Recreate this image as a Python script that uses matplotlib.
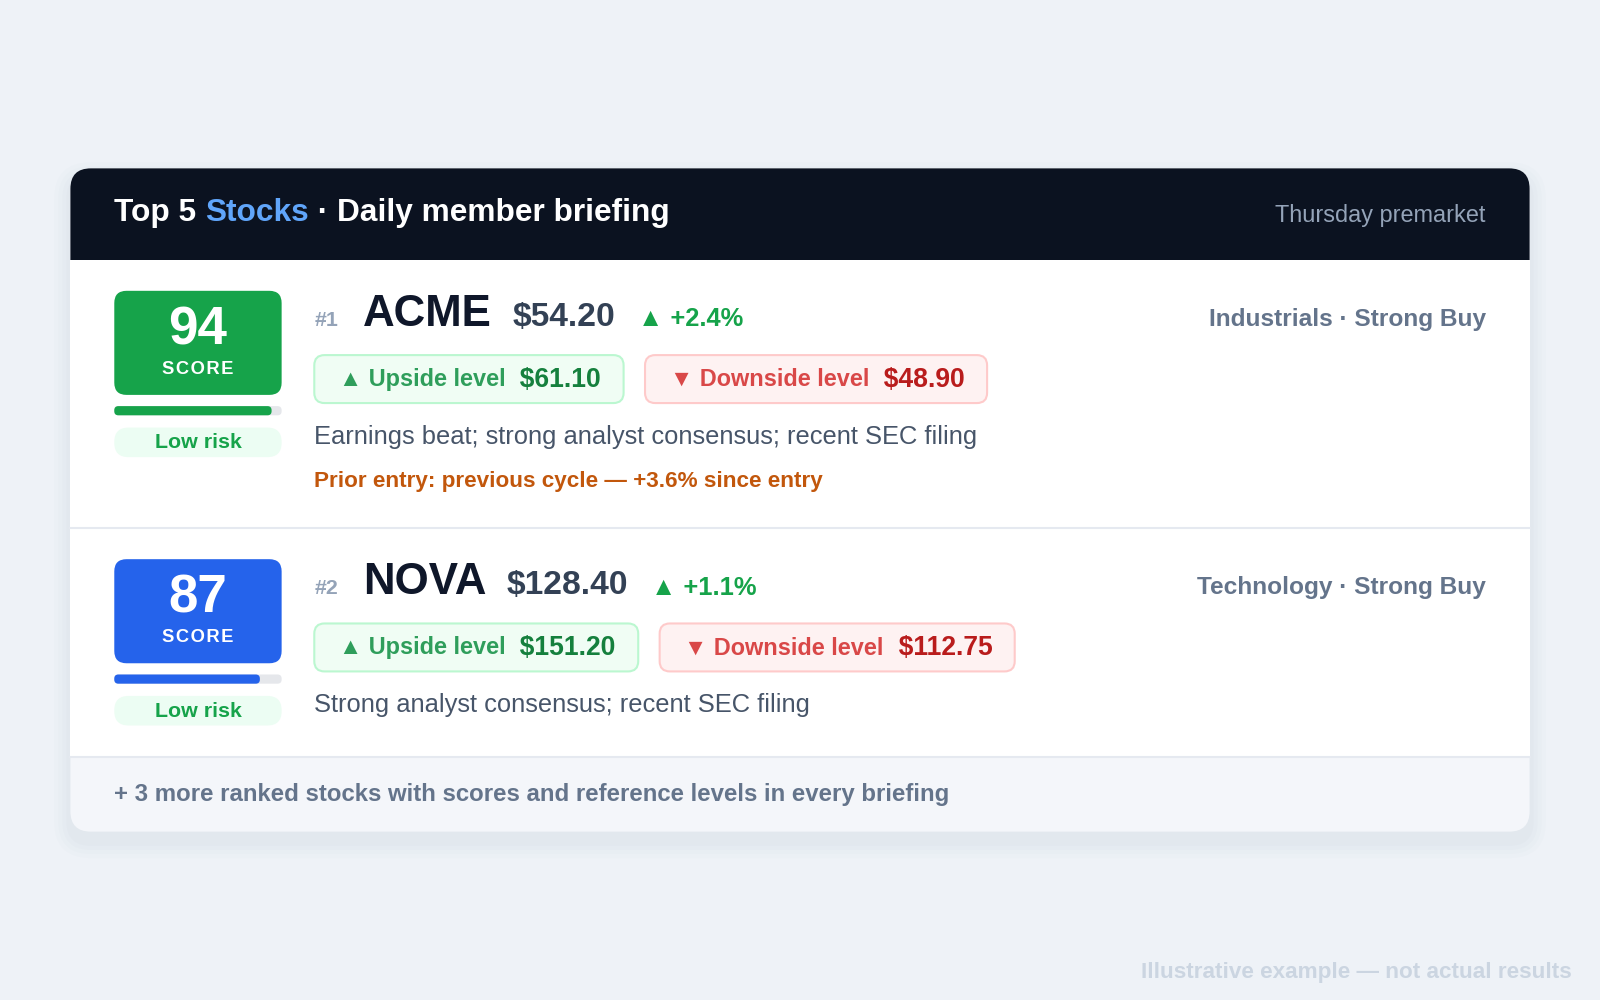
import matplotlib
matplotlib.use("Agg")
import matplotlib.pyplot as plt
from matplotlib.patches import FancyBboxPatch, Rectangle

# data
ranks = ["#1", "#2"]
tickers = ["ACME", "NOVA"]
prices = ["$54.20", "$128.40"]
changes = ["+2.4%", "+1.1%"]
scores = [94, 87]
sectors = ["Industrials · Strong Buy", "Technology · Strong Buy"]
upside = ["$61.10", "$151.20"]
downside = ["$48.90", "$112.75"]
notes = ["Earnings beat; strong analyst consensus; recent SEC filing",
         "Strong analyst consensus; recent SEC filing"]
prior = ["Prior entry: previous cycle — +3.6% since entry", None]
risk = ["Low risk", "Low risk"]
score_colors = ["#16a34a", "#2563eb"]

W, H = 1568, 980
S = 1600 / W
FAM = ["Liberation Sans", "DejaVu Sans"]

fig = plt.figure(figsize=(16, 10), dpi=100)
fig.patch.set_facecolor("#eef2f7")
ax = fig.add_axes([0, 0, 1, 1])
ax.set_xlim(0, W)
ax.set_ylim(H, 0)
ax.axis("off")
renderer = fig.canvas.get_renderer()


def fs(px):
    return px * S * 0.72


def txt(x, y, s, size, color, weight="bold", ha="left"):
    t = ax.text(x, y, s, fontsize=fs(size), color=color, fontweight=weight,
                ha=ha, va="center", family=FAM)
    return t


def width(t):
    return t.get_window_extent(renderer).width / S


def run(x, y, pieces, gap=0):
    # pieces: (text, size, color, weight)
    for s, size, color, weight in pieces:
        t = txt(x, y, s, size, color, weight)
        x += width(t) + gap
    return x


def rbox(x0, y0, x1, y1, r, fc, ec="none", lw=0, z=1, alpha=1):
    p = FancyBboxPatch((x0 + r, y0 + r), x1 - x0 - 2 * r, y1 - y0 - 2 * r,
                       boxstyle=f"round,pad={r}", fc=fc, ec=ec, lw=lw,
                       zorder=z, alpha=alpha, mutation_aspect=1)
    ax.add_patch(p)


# card with shadow
for i, a in enumerate([0.025, 0.025, 0.03, 0.035]):
    d = 16 - i * 4
    rbox(69 - d, 165 - d + 10, 1499 + d, 815 + d + 10, 20 + d, "#94a3b8", z=0.5, alpha=a)
rbox(69, 165, 1499, 815, 20, "#f4f6fa", z=1)
rbox(69, 165, 1499, 290, 20, "#0b1220", z=1.1)
ax.add_patch(Rectangle((69, 255), 1430, 487, fc="white", ec="none", zorder=1.2))
for yl in [517, 742]:
    ax.plot([69, 1499], [yl, yl], color="#e5e9f0", lw=1.5, zorder=1.3)

# header
run(112, 209, [("Top 5 ", 31, "white", "bold"), ("Stocks", 31, "#60a5fa", "bold"),
               (" · Daily member briefing", 31, "white", "bold")])
txt(1456, 211, "Thursday premarket", 23, "#94a3b8", "normal", ha="right")

for i in range(len(tickers)):
    dy = i * 263
    c = score_colors[i]
    rbox(112, 285 + dy, 276, 387 + dy, 12, c, z=2)
    txt(194, 324 + dy, str(scores[i]), 52, "white", ha="center")
    txt(194, 362 + dy, "S C O R E".replace(" ", "\u200a"), 18, "white", ha="center")
    rbox(112, 398 + dy, 276, 407 + dy, 4, "#e5e7eb", z=2)
    rbox(112, 398 + dy, 112 + 164 * scores[i] / 100, 407 + dy, 4, c, z=2.1)
    rbox(112, 419 + dy, 276, 448 + dy, 14, "#ecfdf3", z=2)
    txt(194, 434 + dy, risk[i], 21, "#16a34a", ha="center")

    t = txt(308, 314 + dy, ranks[i], 21, "#94a3b8")
    x = 356
    x = run(x, 308 + dy, [(tickers[i], 43, "#0f172a", "bold")]) + 20
    x = run(x, 311 + dy, [(prices[i], 33, "#334155", "bold")]) + 22
    run(x, 313 + dy, [("▲ " + changes[i], 25, "#16a34a", "bold")])
    txt(1456, 313 + dy, sectors[i], 24, "#64748b", ha="right")

    # level pills
    x0 = 308
    end = run(x0 + 24, 372 + dy, [("▲ Upside level", 23, "#2f9e5b", "bold"),
                                    ("  " + upside[i], 26, "#15803d", "bold")])
    rbox(x0, 348 + dy, end + 22, 395 + dy, 10, "#f0fdf4", ec="#bbf7d0", lw=1.5, z=2)
    x1 = end + 22 + 21
    end2 = run(x1 + 24, 372 + dy, [("▼ Downside level", 23, "#d94848", "bold"),
                                     ("  " + downside[i], 26, "#b91c1c", "bold")])
    rbox(x1, 348 + dy, end2 + 22, 395 + dy, 10, "#fef2f2", ec="#fecaca", lw=1.5, z=2)
    for t in ax.texts:
        t.set_zorder(3)

    txt(308, 428 + dy, notes[i], 25, "#475569", "normal")
    if prior[i]:
        txt(308, 472 + dy, prior[i], 22, "#c2570c")

txt(112, 779, "+ 3 more ranked stocks with scores and reference levels in every briefing",
    23.5, "#64748b")
txt(1540, 953, "Illustrative example — not actual results", 22, "#cbd5e1", ha="right")

for t in ax.texts:
    t.set_zorder(3)

fig.savefig("out.png", dpi=100, facecolor=fig.get_facecolor())
